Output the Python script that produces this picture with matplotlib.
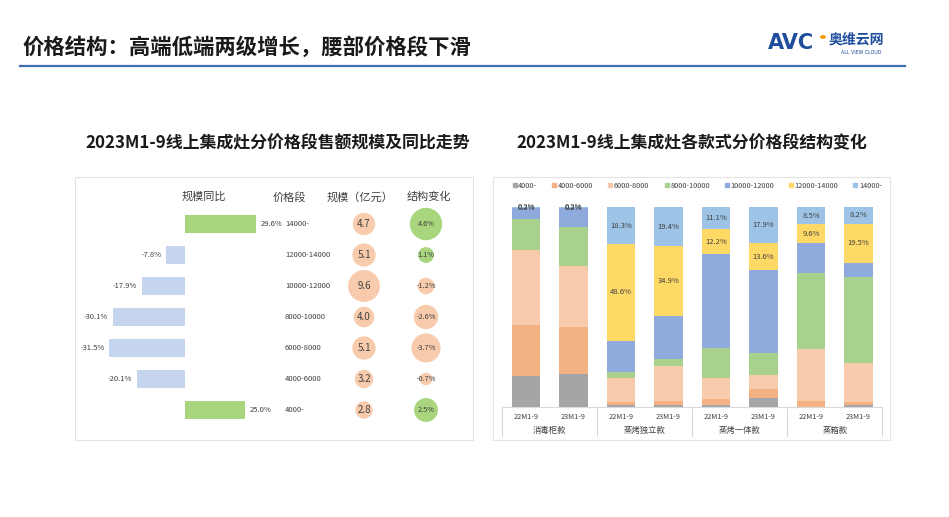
import matplotlib
matplotlib.use('Agg')
import matplotlib.pyplot as plt
from matplotlib.patches import Rectangle
from matplotlib.lines import Line2D

plt.rcParams['font.family'] = ['Noto Sans CJK SC', 'DejaVu Sans']

W, H = 949, 517

# ---- 左图数据：分价格段规模及同比 ----
price_bands = ['14000-', '12000-14000', '10000-12000', '8000-10000',
               '6000-8000', '4000-6000', '4000-']
yoy = [29.6, -7.8, -17.9, -30.1, -31.5, -20.1, 25.0]
scale = [4.7, 5.1, 9.6, 4.0, 5.1, 3.2, 2.8]
share_change = [4.6, 1.1, -1.2, -2.6, -3.7, -0.7, 2.5]

# ---- 右图数据：各款式分价格段结构 ----
periods = ['22M1-9', '23M1-9'] * 4
groups = ['消毒柜款', '蒸烤独立款', '蒸烤一体款', '蒸箱款']
seg_names = ['4000-', '4000-6000', '6000-8000', '8000-10000',
             '10000-12000', '12000-14000', '14000-']
share_4000 = [15.4, 16.4, 0.8, 1.0, 0.8, 4.3, 0.1, 1.0]
share_4000_6000 = [25.6, 23.7, 1.8, 1.8, 3.0, 4.7, 3.0, 1.3]
share_6000_8000 = [37.6, 30.4, 11.9, 17.8, 10.7, 6.7, 25.6, 19.8]
share_8000_10000 = [15.6, 19.4, 2.7, 3.5, 15.1, 11.4, 38.3, 42.8]
share_10000_12000 = [5.4, 9.7, 15.9, 21.6, 47.1, 41.4, 14.9, 7.4]
share_12000_14000 = [0.2, 0.2, 48.6, 34.9, 12.2, 13.6, 9.6, 19.5]
share_14000 = [0.2, 0.2, 18.3, 19.4, 11.1, 17.9, 8.5, 8.2]

seg_colors = ['#A5A5A5', '#F4B183', '#F8CBAD', '#A9D18E',
              '#8FAADC', '#FFD966', '#9DC3E6']
txt_dark = '#404040'


def fx(px):
    return px / W


def fy(py):
    return 1 - py / H


def box(l, t, r, b):
    return [l / W, 1 - b / H, (r - l) / W, (b - t) / H]


fig = plt.figure(figsize=(W / 100, H / 100), dpi=100)
fig.patch.set_facecolor('white')

# 页面标题与分隔线
fig.text(fx(22), fy(47), '价格结构：高端低端两级增长，腰部价格段下滑',
         fontsize=15.4, weight='bold', color='#1a1a1a', va='center', ha='left')
fig.add_artist(Line2D([fx(20), fx(905)], [fy(66), fy(66)], color='#3D6DB5', lw=1.6))

# logo
fig.text(fx(768), fy(43), 'AVC', fontsize=15, weight='bold',
         color='#1F4E9C', family='DejaVu Sans', va='center', ha='left')
fig.add_artist(plt.Circle((fx(823), fy(37)), 2.2 / W, color='#F39800',
                          transform=fig.transFigure))
fig.text(fx(829), fy(40), '奥维云网', fontsize=10, weight='bold',
         color='#1F4E9C', va='center', ha='left')
fig.text(fx(841), fy(53), 'ALL VIEW CLOUD', fontsize=3.4, color='#1F4E9C',
         family='DejaVu Sans', va='center', ha='left')

# 子图标题
fig.text(fx(278), fy(143), '2023M1-9线上集成灶分价格段售额规模及同比走势',
         fontsize=12.2, weight='bold', color='#1a1a1a', ha='center', va='center')
fig.text(fx(692), fy(143), '2023M1-9线上集成灶各款式分价格段结构变化',
         fontsize=12.2, weight='bold', color='#1a1a1a', ha='center', va='center')

# 面板边框
for l, t, r, b in [(75, 177, 473, 440), (493, 177, 890, 440)]:
    fig.add_artist(Rectangle((fx(l), fy(b)), (r - l) / W, (b - t) / H,
                             transform=fig.transFigure, facecolor='white',
                             edgecolor='#E3E3E3', lw=0.8, zorder=0))

# ---- 左图 ----
row_top, row_gap = 224, 31
y_lo = (177 - row_top) / row_gap
y_hi = (440 - row_top) / row_gap
rows = list(range(len(price_bands)))

ppx = 2.4  # 每 1% 对应像素
ax_b = fig.add_axes(box(80, 177, 280, 440))
ax_b.set_xlim(-(185 - 80) / ppx, (280 - 185) / ppx)
ax_b.set_ylim(y_hi, y_lo)
bar_colors = ['#A8D57E' if v > 0 else '#C5D5EE' for v in yoy]
ax_b.barh(rows, yoy, height=0.58, color=bar_colors)
for r, v in zip(rows, yoy):
    if v > 0:
        ax_b.text(v + 2, r, f'{v:.1f}%', fontsize=5.5, color=txt_dark,
                  ha='left', va='center')
    else:
        ax_b.text(v - 2, r, f'{v:.1f}%', fontsize=5.5, color=txt_dark,
                  ha='right', va='center')
ax_b.axis('off')

ax_t = fig.add_axes(box(280, 177, 473, 440))
ax_t.set_xlim(280, 473)
ax_t.set_ylim(y_hi, y_lo)
ax_t.axis('off')
col_band, col_scale, col_share = 285, 364, 426
for r, band in zip(rows, price_bands):
    ax_t.text(col_band, r, band, fontsize=5.5, color=txt_dark, ha='left', va='center')
ax_t.scatter([col_scale] * len(scale), rows, s=[55 * v for v in scale],
             color='#F8CBAD', linewidths=0, zorder=2)
for r, v in zip(rows, scale):
    ax_t.text(col_scale, r, f'{v:.1f}', fontsize=7, color=txt_dark,
              ha='center', va='center', zorder=3)
share_colors = ['#A8D57E' if v > 0 else '#F8CBAD' for v in share_change]
ax_t.scatter([col_share] * len(share_change), rows,
             s=[118 * abs(v) for v in share_change],
             color=share_colors, linewidths=0, zorder=2)
for r, v in zip(rows, share_change):
    ax_t.text(col_share, r, f'{v:.1f}%', fontsize=5.3, color=txt_dark,
              ha='center', va='center', zorder=3)

# 表头
for x, s in [(204, '规模同比'), (289, '价格段'), (360, '规模（亿元）'), (429, '结构变化')]:
    fig.text(fx(x), fy(197), s, fontsize=8, color=txt_dark, ha='center', va='center')

# ---- 右图 ----
ax_r = fig.add_axes(box(502.25, 207.3, 882.25, 406.7))
ax_r.set_xlim(-0.5, 7.5)
ax_r.set_ylim(0, 100)
series = [share_4000, share_4000_6000, share_6000_8000, share_8000_10000,
          share_10000_12000, share_12000_14000, share_14000]
xs = list(range(len(periods)))
bottom = [0.0] * len(periods)
for name, vals, c in zip(seg_names, series, seg_colors):
    ax_r.bar(xs, vals, bottom=bottom, width=0.59, color=c, label=name)
    if name in ('12000-14000', '14000-'):
        for x, b, v in zip(xs, bottom, vals):
            ax_r.text(x, b + v / 2, f'{v:.1f}%', fontsize=5.5, color=txt_dark,
                      ha='center', va='center')
    bottom = [b + v for b, v in zip(bottom, vals)]

for s in ['top', 'right', 'left']:
    ax_r.spines[s].set_visible(False)
ax_r.spines['bottom'].set_color('#D9D9D9')
ax_r.spines['bottom'].set_linewidth(0.8)
ax_r.set_xticks([])
ax_r.set_yticks([])

trans = ax_r.get_xaxis_transform()
for x, p in zip(xs, periods):
    ax_r.text(x, -0.052, p, fontsize=5.3, color=txt_dark, ha='center',
              va='center', transform=trans)
for i, g in enumerate(groups):
    ax_r.text(2 * i + 0.5, -0.118, g, fontsize=6, color=txt_dark, ha='center',
              va='center', transform=trans)
for xv in [-0.5, 1.5, 3.5, 5.5, 7.5]:
    ax_r.plot([xv, xv], [0, -0.147], color='#D9D9D9', lw=0.8,
              transform=trans, clip_on=False)

handles = [Line2D([], [], marker='s', linestyle='none', markersize=2.5,
                  color=c) for c in seg_colors]
fig.legend(handles, seg_names, loc='center', bbox_to_anchor=(fx(697), fy(186)),
           ncol=7, fontsize=5.3, frameon=False, handletextpad=0.1,
           columnspacing=1.9, handlelength=0.8, labelcolor=txt_dark)

fig.savefig('out.png', dpi=100)
